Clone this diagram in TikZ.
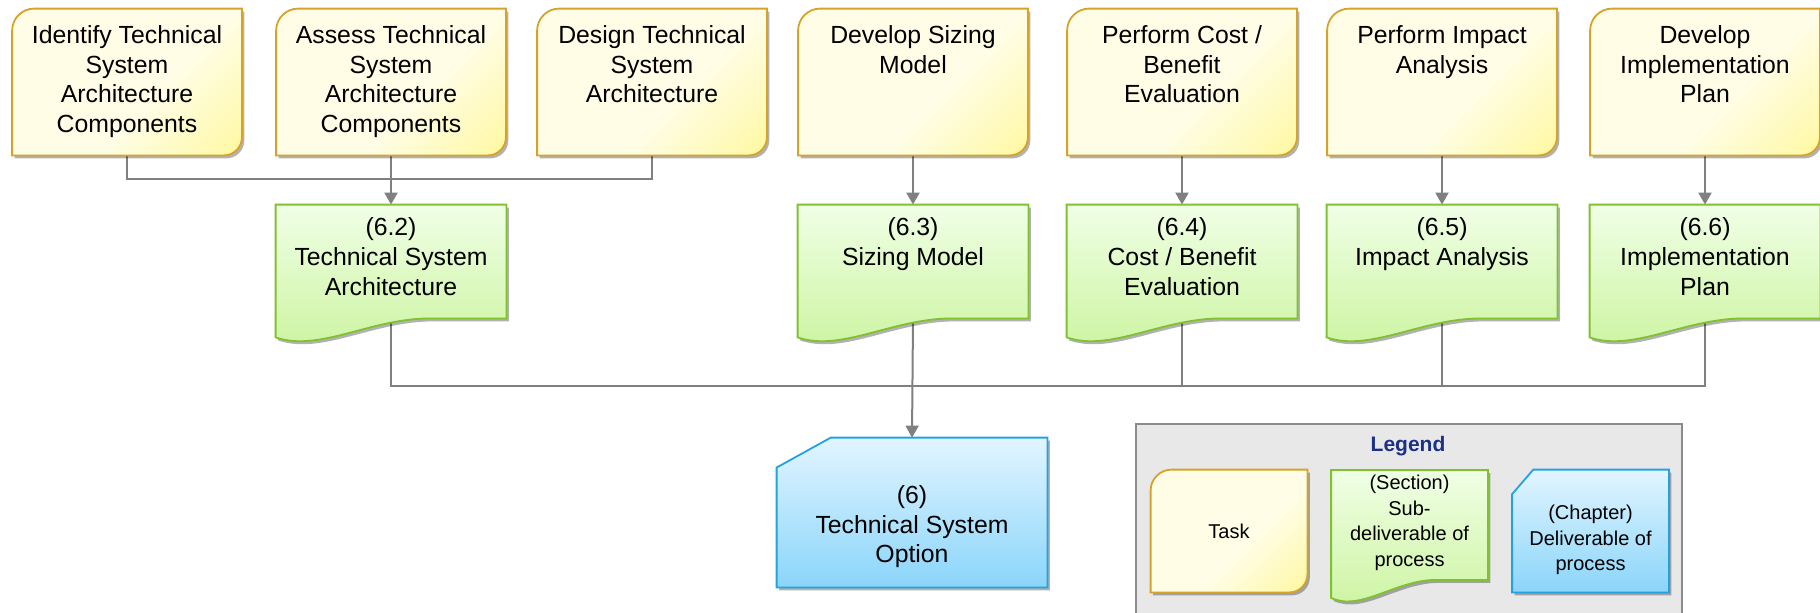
\documentclass[tikz,border=0pt]{standalone}
\usepackage{fontspec}
\setmainfont{Liberation Sans}
\usetikzlibrary{arrows.meta,shadows,backgrounds,calc}

\definecolor{taskedge}{RGB}{214,163,40}
\definecolor{taskpale}{RGB}{255,253,230}
\definecolor{taskmid}{RGB}{255,249,175}
\definecolor{taskdeep}{RGB}{255,242,100}
\definecolor{docedge}{RGB}{128,194,46}
\definecolor{docpale}{RGB}{240,255,230}
\definecolor{docdeep}{RGB}{204,244,160}
\definecolor{chapedge}{RGB}{34,162,226}
\definecolor{chappale}{RGB}{226,245,255}
\definecolor{chapdeep}{RGB}{138,213,250}
\definecolor{linkgray}{RGB}{128,128,128}
\definecolor{legendfill}{RGB}{232,232,232}
\definecolor{legendedge}{RGB}{140,140,140}
\definecolor{legendblue}{RGB}{28,48,135}

\pgfdeclareverticalshading{taskshade}{100bp}{color(0bp)=(taskdeep); color(20bp)=(taskmid); color(42bp)=(taskpale); color(100bp)=(taskpale)}

\begin{document}
\begin{tikzpicture}[x=0.5pt, y=-0.5pt,
  font=\fontsize{12.4pt}{14.8pt}\selectfont,
  softshadow/.style={drop shadow={shadow xshift=1.2pt, shadow yshift=-1.5pt, opacity=0.3, fill=black}},
  taskspot/.style={inner sep=0pt, minimum width=114.5pt, minimum height=73pt},
  docspot/.style={inner sep=0pt, minimum width=115pt, minimum height=56.5pt},
  chapspot/.style={inner sep=0pt, minimum width=135pt, minimum height=74.5pt},
  legendspot/.style={inner sep=0pt, minimum width=78pt, minimum height=#1},
  taskline/.style={draw=taskedge, line width=0.9pt, shade, shading=taskshade, shading angle=45, softshadow},
  docline/.style={draw=docedge, line width=0.9pt, top color=docpale, bottom color=docdeep, softshadow},
  chapline/.style={draw=chapedge, line width=0.9pt, top color=chappale, bottom color=chapdeep, softshadow},
  boxtext/.style={anchor=north, align=center, inner sep=0pt},
  legendtext/.style={font=\fontsize{10pt}{12.8pt}\selectfont, align=center, inner sep=0pt},
  link/.style={draw=linkgray, line width=1pt},
  flow/.style={link, -{Triangle[width=6.5pt,length=6pt]}}]

\useasboundingbox (0,0) rectangle (1820,612);

% tasks
\foreach \n/\x/\txt in {t1/127/{Identify Technical\\System\\Architecture\\Components},
    t2/391/{Assess Technical\\System\\Architecture\\Components},
    t3/652/{Design Technical\\System\\Architecture},
    t4/913/{Develop Sizing\\Model},
    t5/1182/{Perform Cost /\\Benefit\\Evaluation},
    t6/1442/{Perform Impact\\Analysis},
    t7/1705/{Develop\\Implementation\\Plan}}{
  \node[taskspot] (\n) at (\x,82) {};
  \draw[taskline] ([yshift=-11pt]\n.north west) arc[start angle=180, end angle=90, radius=11pt] -- (\n.north east)
    -- ([yshift=9pt]\n.south east) arc[start angle=0, end angle=-90, radius=9pt] -- (\n.south west) -- cycle;
  \node[boxtext] (\n-txt) at ([yshift=-8.3pt]\n.north) {\txt};
}

% sub-deliverables
\foreach \n/\x/\txt in {d2/391/{(6.2)\\Technical System\\Architecture},
    d4/913/{(6.3)\\Sizing Model},
    d5/1182/{(6.4)\\Cost / Benefit\\Evaluation},
    d6/1442/{(6.5)\\Impact Analysis},
    d7/1705/{(6.6)\\Implementation\\Plan}}{
  \node[docspot] (\n) at (\x,261.5) {};
  \draw[docline] (\n.north west) -- (\n.north east) -- (\n.south east) -- ($(\n.south west)!0.67!(\n.south east)$)
    .. controls ($(\n.south west)!0.41!(\n.south east)$) and ($(\n.south west)!0.19!(\n.south east)+(0,-17pt)$)
    .. ([yshift=-9.5pt]\n.south west) -- cycle;
  \node[boxtext] (\n-txt) at ([yshift=-6.5pt]\n.north) {\txt};
}

% deliverable
\node[chapspot] (ch) at (912,512.5) {};
\draw[chapline] ($(ch.north west)!0.2!(ch.south west)$) -- ($(ch.north west)!0.2!(ch.north east)$) -- (ch.north east)
  -- (ch.south east) -- (ch.south west) -- cycle;
\node[boxtext, anchor=center] (ch-txt) at ([yshift=-7.2pt]ch.center) {(6)\\Technical System\\Option};

% legend
\begin{scope}
\clip (0,0) rectangle (1820,612);
\node[draw=legendedge, fill=legendfill, line width=0.7pt, minimum width=273pt, minimum height=108pt] (legend) at (1409,532) {};
\end{scope}
\node[font=\fontsize{10.5pt}{13pt}\bfseries, text=legendblue, inner sep=0pt] (legend-title) at (1408,446) {Legend};

\node[legendspot=61pt] (lt) at (1229,531) {};
\draw[taskline] ([yshift=-10.5pt]lt.north west) arc[start angle=180, end angle=90, radius=10.5pt] -- (lt.north east)
  -- ([yshift=9pt]lt.south east) arc[start angle=0, end angle=-90, radius=9pt] -- (lt.south west) -- cycle;
\node[legendtext] (lt-txt) at (lt.center) {Task};

\node[legendspot=54.5pt] (ld) at (1409.5,525) {};
\draw[docline] (ld.north west) -- (ld.north east) -- (ld.south east) -- ($(ld.south west)!0.67!(ld.south east)$)
  .. controls ($(ld.south west)!0.41!(ld.south east)$) and ($(ld.south west)!0.19!(ld.south east)+(0,-16pt)$)
  .. ([yshift=-9pt]ld.south west) -- cycle;
\node[legendtext] (ld-txt) at ([yshift=1pt]ld.center) {(Section)\\Sub-\\deliverable of\\process};

\node[legendspot=61pt] (lc) at (1590.5,531) {};
\draw[chapline] ($(lc.north west)!0.2!(lc.south west)$) -- ($(lc.north west)!0.135!(lc.north east)$) -- (lc.north east)
  -- (lc.south east) -- (lc.south west) -- cycle;
\node[legendtext] (lc-txt) at ([yshift=-4.5pt]lc.center) {(Chapter)\\Deliverable of\\process};

% connectors
\begin{scope}[on background layer]
\coordinate (j1) at (t2.south |- 0,179);
\coordinate (j2) at (d4.south |- 0,386);
\draw[link] (t1.south) |- (j1) -| (t3.south);
\draw[flow] (t2.south) -- (d2.north);
\foreach \n in {4,5,6,7} \draw[flow] (t\n.south) -- (d\n.north);
\draw[link] (d2.south) |- (j2) -| (d7.south);
\draw[link] (d5.south) -- (d5.south |- j2);
\draw[link] (d6.south) -- (d6.south |- j2);
\draw[flow] (d4.south) -- (ch.north);
\end{scope}
\end{tikzpicture}
\end{document}
